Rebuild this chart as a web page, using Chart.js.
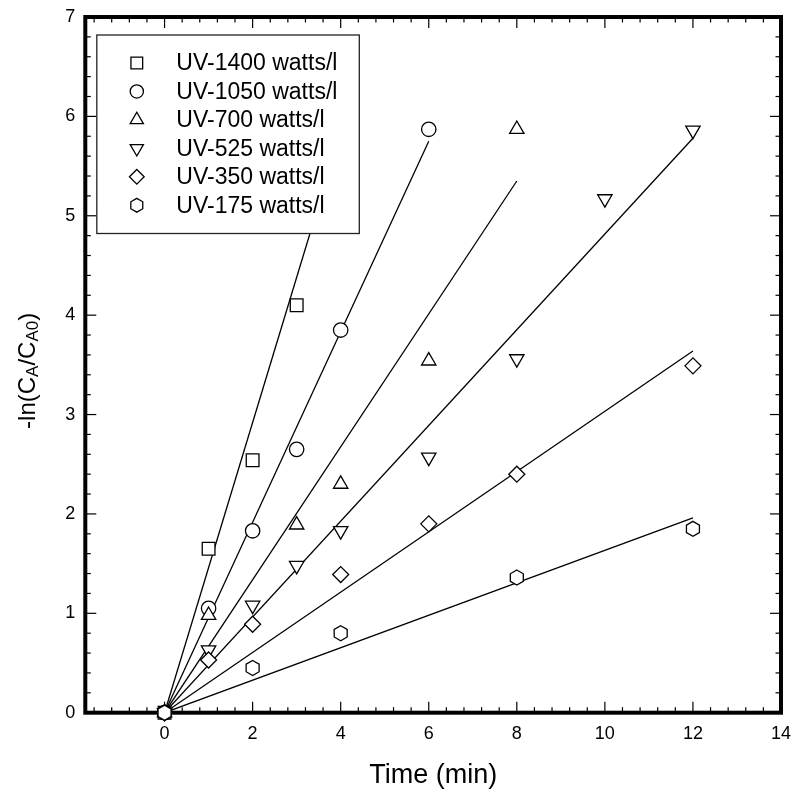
<!DOCTYPE html>
<html><head><meta charset="utf-8">
<script src="https://cdn.jsdelivr.net/npm/chart.js@4/dist/chart.umd.min.js"></script>
<style>html,body{margin:0;padding:0;background:#fff}#wrap{width:795px;height:792px;position:relative}</style>
</head><body><div id="wrap"><canvas id="c" width="795" height="792"></canvas></div>
<script>
// ---------------- data ----------------
const seriesLabels = ['UV-1400 watts/l','UV-1050 watts/l','UV-700 watts/l','UV-525 watts/l','UV-350 watts/l','UV-175 watts/l'];
const t1400 = [0, 1, 2, 3];
const y1400 = [0, 1.65, 2.54, 4.10];
const t1050 = [0, 1, 2, 3, 4, 6];
const y1050 = [0, 1.05, 1.83, 2.65, 3.85, 5.87];
const t700  = [0, 1, 3, 4, 6, 8];
const y700  = [0, 0.98, 1.89, 2.30, 3.54, 5.87];
const t525  = [0, 1, 2, 3, 4, 6, 8, 10, 12];
const y525  = [0, 0.63, 1.08, 1.48, 1.83, 2.57, 3.56, 5.17, 5.86];
const t350  = [0, 1, 2, 4, 6, 8, 12];
const y350  = [0, 0.53, 0.89, 1.39, 1.90, 2.40, 3.49];
const t175  = [0, 2, 4, 8, 12];
const y175  = [0, 0.45, 0.80, 1.36, 1.85];
// linear fits through the origin: end time and end value of each line
const fitEndT = [4, 6, 8, 12, 12, 12];
const fitEndY = [5.84, 5.75, 5.35, 5.78, 3.64, 1.96];
const xTicks = [0, 2, 4, 6, 8, 10, 12, 14];
const yTicks = [0, 1, 2, 3, 4, 5, 6, 7];
const xMin = -1.8, xMax = 14, yMin = 0, yMax = 7;
const xTitle = 'Time (min)';

// ---------------- styles ----------------
const FONT = '"Liberation Sans", Arial, Helvetica, sans-serif';
const HEX = 'hex';
const markerStyle = ['rect', 'circle', 'triangle', 'triangle', 'rectRot', HEX];
const markerRot = [0, 0, 0, 180, 0, 0];
const markerRadius = [9, 7.2, 8.3, 8.3, 8, 7.5];

function drawHex(ctx, cx, cy, r) {
  ctx.beginPath();
  for (let k = 0; k < 6; k++) {
    const a = -Math.PI / 2 + k * Math.PI / 3;
    const px = cx + r * Math.cos(a), py = cy + r * Math.sin(a);
    if (k) ctx.lineTo(px, py); else ctx.moveTo(px, py);
  }
  ctx.closePath();
  ctx.fillStyle = '#fff'; ctx.fill();
  ctx.lineWidth = 1.3; ctx.strokeStyle = '#000'; ctx.stroke();
}

const times = [t1400, t1050, t700, t525, t350, t175];
const vals = [y1400, y1050, y700, y525, y350, y175];

const datasets = [];
for (let i = 0; i < 6; i++) {
  datasets.push({
    label: 'fit ' + seriesLabels[i],
    data: [{x: 0, y: 0}, {x: fitEndT[i], y: fitEndY[i]}],
    showLine: true, pointRadius: 0, borderColor: '#000', borderWidth: 1.3,
    order: 10
  });
}
const markerIndex = [];
for (let i = 0; i < 6; i++) {
  const isHex = markerStyle[i] === HEX;
  markerIndex.push(datasets.length);
  datasets.push({
    label: seriesLabels[i],
    data: times[i].map((t, k) => ({x: t, y: vals[i][k]})),
    showLine: false,
    pointStyle: isHex ? 'circle' : markerStyle[i], rotation: markerRot[i], pointRadius: markerRadius[i],
    pointBackgroundColor: isHex ? 'rgba(0,0,0,0)' : '#fff',
    pointBorderColor: isHex ? 'rgba(0,0,0,0)' : '#000',
    pointBorderWidth: isHex ? 0 : 1.3,
    clip: false, order: -i
  });
}

// ---------------- plugins ----------------
const framePlugin = {
  id: 'frame',
  beforeDatasetsDraw(chart) {
    const {ctx, chartArea: a, scales: {x, y}} = chart;
    ctx.save();
    ctx.strokeStyle = '#000';
    ctx.lineWidth = 1.2;
    const seg = (x1, y1, x2, y2) => { ctx.beginPath(); ctx.moveTo(x1, y1); ctx.lineTo(x2, y2); ctx.stroke(); };
    const MAJ = 11, MIN = 5.5;
    const xStep = xTicks[1] - xTicks[0], yStep = yTicks[1] - yTicks[0];
    const xMinor = xStep / 5, yMinor = yStep / 5;
    for (let k = Math.ceil(xMin / xMinor); k * xMinor <= xMax + 1e-9; k++) {
      const v = k * xMinor;
      const px = x.getPixelForValue(v);
      const isMaj = Math.abs(v / xStep - Math.round(v / xStep)) < 1e-6;
      const L = isMaj ? MAJ : MIN;
      seg(px, a.bottom, px, a.bottom - L);
      seg(px, a.top, px, a.top + L);
    }
    for (let k = Math.ceil(yMin / yMinor); k * yMinor <= yMax + 1e-9; k++) {
      const v = k * yMinor;
      const py = y.getPixelForValue(v);
      const isMaj = Math.abs(v / yStep - Math.round(v / yStep)) < 1e-6;
      const L = isMaj ? MAJ : MIN;
      seg(a.left, py, a.left + L, py);
      seg(a.right, py, a.right - L, py);
    }
    ctx.lineWidth = 4;
    ctx.strokeRect(a.left, a.top, a.right - a.left, a.bottom - a.top);
    ctx.restore();
  },
  afterDatasetsDraw(chart) {
    const {ctx, chartArea: a} = chart;
    ctx.save();
    // hexagon markers at the positions computed by the library
    for (let i = 0; i < 6; i++) {
      if (markerStyle[i] !== HEX) continue;
      const meta = chart.getDatasetMeta(markerIndex[i]);
      for (const el of meta.data) drawHex(ctx, el.x, el.y, markerRadius[i]);
    }
    // legend box
    const bx = a.left + 11.5, by = a.top + 18, bw = 262.5, bh = 198.5;
    ctx.fillStyle = '#fff';
    ctx.fillRect(bx, by, bw, bh);
    ctx.strokeStyle = '#222'; ctx.lineWidth = 1.3;
    ctx.strokeRect(bx, by, bw, bh);
    ctx.font = '23px ' + FONT;
    ctx.textBaseline = 'middle';
    ctx.textAlign = 'left';
    for (let i = 0; i < 6; i++) {
      const cy = by + 28 + i * 28.45;
      const cx = bx + 40;
      if (markerStyle[i] === HEX) {
        drawHex(ctx, cx, cy, markerRadius[i] * 0.92);
      } else {
        ctx.fillStyle = '#fff'; ctx.strokeStyle = '#000'; ctx.lineWidth = 1.3;
        Chart.helpers.drawPoint(ctx, {pointStyle: markerStyle[i], rotation: markerRot[i], radius: markerRadius[i] * 0.92, borderWidth: 1.3}, cx, cy);
      }
      ctx.fillStyle = '#000';
      ctx.fillText(seriesLabels[i], bx + 79.5, cy + 1);
    }
    ctx.restore();
  },
  afterDraw(chart) {
    const {ctx, chartArea: a} = chart;
    ctx.save();
    const cy = (a.top + a.bottom) / 2 + 6;
    ctx.translate(34.5, cy);
    ctx.rotate(-Math.PI / 2);
    const big = '24px ' + FONT, small = '17px ' + FONT;
    const parts = [['-ln(C', big, 0], ['A', small, 3.5], ['/C', big, 0], ['A0', small, 3.5], [')', big, 0]];
    let total = 0;
    for (const p of parts) { ctx.font = p[1]; total += ctx.measureText(p[0]).width; }
    let xx = -total / 2;
    ctx.fillStyle = '#000';
    ctx.textBaseline = 'alphabetic';
    ctx.textAlign = 'left';
    for (const p of parts) {
      ctx.font = p[1];
      ctx.fillText(p[0], xx, p[2]);
      xx += ctx.measureText(p[0]).width;
    }
    ctx.restore();
  }
};

Chart.defaults.color = '#000';
Chart.defaults.font.family = FONT;

new Chart(document.getElementById('c'), {
  type: 'scatter',
  data: {datasets},
  options: {
    responsive: false, animation: false, devicePixelRatio: 1, events: [],
    layout: {padding: {top: 17, right: 14, left: 0, bottom: 0}},
    plugins: {legend: {display: false}, tooltip: {enabled: false}},
    scales: {
      x: {
        type: 'linear', min: xMin, max: xMax,
        afterBuildTicks: s => { s.ticks = xTicks.map(v => ({value: v})); },
        afterFit: s => { s.height = 79.3; s.paddingLeft = 0; s.paddingRight = 0; },
        grid: {display: false, drawTicks: false}, border: {display: false},
        ticks: {font: {size: 18}, color: '#000', padding: 11, maxRotation: 0, autoSkip: false, callback: v => String(v)},
        title: {display: true, text: xTitle, font: {size: 27}, color: '#000', padding: {top: 0, bottom: 0}}
      },
      y: {
        type: 'linear', min: yMin, max: yMax,
        afterBuildTicks: s => { s.ticks = yTicks.map(v => ({value: v})); },
        afterFit: s => { s.width = 85.3; s.paddingTop = 0; s.paddingBottom = 0; },
        grid: {display: false, drawTicks: false}, border: {display: false},
        ticks: {font: {size: 18}, color: '#000', padding: 10, autoSkip: false, callback: v => String(v)}
      }
    }
  },
  plugins: [framePlugin]
});
</script>
</body></html>
